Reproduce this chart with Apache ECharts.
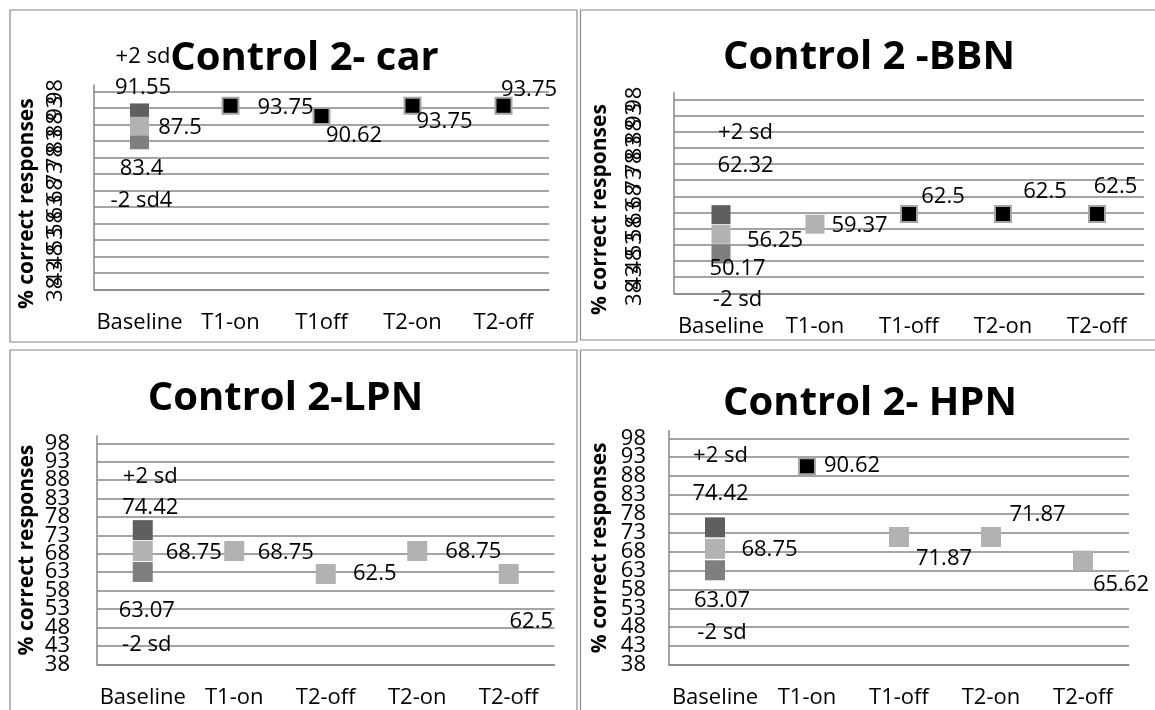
<!DOCTYPE html>
<html><head><meta charset="utf-8">
<script src="https://cdn.jsdelivr.net/npm/echarts@6/dist/echarts.min.js"></script>
<style>html,body{margin:0;padding:0;background:#fff}#chart{width:1155px;height:710px}</style>
</head><body><div id="chart"></div>
<script>
// ---------------- data ----------------
const yTickValues = [38, 43, 48, 53, 58, 63, 68, 73, 78, 83, 88, 93, 98];

const carCategories = ['Baseline', 'T1-on', 'T1off', 'T2-on', 'T2-off'];
const carPlus2sd  = [91.55, null, null, null, null];
const carMean     = [87.5, null, null, null, null];
const carMinus2sd = [83.4, null, null, null, null];
const carBlack    = [null, 93.75, 90.62, 93.75, 93.75];
const carGray     = [null, null, null, null, null];
const carSdNames  = ['+2 sd', '-2 sd4'];

const bbnCategories = ['Baseline', 'T1-on', 'T1-off', 'T2-on', 'T2-off'];
const bbnPlus2sd  = [62.32, null, null, null, null];
const bbnMean     = [56.25, null, null, null, null];
const bbnMinus2sd = [50.17, null, null, null, null];
const bbnBlack    = [null, null, 62.5, 62.5, 62.5];
const bbnGray     = [null, 59.37, null, null, null];
const bbnSdNames  = ['+2 sd', '-2 sd'];

const lpnCategories = ['Baseline', 'T1-on', 'T2-off', 'T2-on', 'T2-off'];
const lpnPlus2sd  = [74.42, null, null, null, null];
const lpnMean     = [68.75, null, null, null, null];
const lpnMinus2sd = [63.07, null, null, null, null];
const lpnBlack    = [null, null, null, null, null];
const lpnGray     = [null, 68.75, 62.5, 68.75, 62.5];
const lpnSdNames  = ['+2 sd', '-2 sd'];

const hpnCategories = ['Baseline', 'T1-on', 'T1-off', 'T2-on', 'T2-off'];
const hpnPlus2sd  = [74.42, null, null, null, null];
const hpnMean     = [68.75, null, null, null, null];
const hpnMinus2sd = [63.07, null, null, null, null];
const hpnBlack    = [null, 90.62, null, null, null];
const hpnGray     = [null, null, 71.87, 71.87, 65.62];
const hpnSdNames  = ['+2 sd', '-2 sd'];

const panelTitles = ['Control 2- car', 'Control 2 -BBN', 'Control 2-LPN', 'Control 2- HPN'];
const yAxisTitle = '% correct responses';

// ---------------- layout (positions / styles only) ----------------
const FONT = '"Open Sans", "Noto Sans", sans-serif';
const GRID_COLOR = '#868686';
const panels = [
  { categories: carCategories, plus: carPlus2sd, mean: carMean, minus: carMinus2sd, black: carBlack, gray: carGray, sdNames: carSdNames,
    layout: { titleX: 304.5, titleY: 59, box: [10, 10, 567, 332],
      grid: { left: 94, top: 85.1, width: 455, height: 204.2 }, yRotate: 90, yLabelMargin: 27, nameGap: 56, namePad: 33,
      size: 19, plusLH: 31, minusLH: 32,
      off: { plus: [[3.5, -40.5]], mean: [[40.5, 1.7]], minus: [[2, 45]],
             black: [null, [55, 2], [32.5, 19.5], [32, 16], [25.5, -16]], gray: [] } } },
  { categories: bbnCategories, plus: bbnPlus2sd, mean: bbnMean, minus: bbnMinus2sd, black: bbnBlack, gray: bbnGray, sdNames: bbnSdNames,
    layout: { titleX: 869, titleY: 58, box: [580.5, 10, 600, 330],
      grid: { left: 674, top: 92.8, width: 470, height: 200.5 }, yRotate: 90, yLabelMargin: 28, nameGap: 63, namePad: 33,
      size: 19, plusLH: 33, minusLH: 31,
      off: { plus: [[24.5, -65]], mean: [[54, 6]], minus: [[16.5, 30.5]],
             black: [null, null, [34, -17], [42, -22], [18.5, -27]], gray: [null, [44.5, 2]] } } },
  { categories: lpnCategories, plus: lpnPlus2sd, mean: lpnMean, minus: lpnMinus2sd, black: lpnBlack, gray: lpnGray, sdNames: lpnSdNames,
    layout: { titleX: 285.5, titleY: 399, box: [10, 350, 567, 400],
      grid: { left: 97, top: 435.9, width: 457.5, height: 228.4 }, yRotate: 0, yLabelMargin: 27, nameGap: 59, namePad: 0,
      size: 20, plusLH: 31, minusLH: 34,
      off: { plus: [[7.5, -37.7]], mean: [[51, 2]], minus: [[4, 56]],
             black: [], gray: [null, [51.5, 2], [49, 0], [56, 1], [22.5, 48]] } } },
  { categories: hpnCategories, plus: hpnPlus2sd, mean: hpnMean, minus: hpnMinus2sd, black: hpnBlack, gray: hpnGray, sdNames: hpnSdNames,
    layout: { titleX: 870, titleY: 404, box: [580.5, 350, 600, 400],
      grid: { left: 669, top: 430.7, width: 460, height: 234.3 }, yRotate: 0, yLabelMargin: 23, nameGap: 58, namePad: 0,
      size: 20, plusLH: 37.5, minusLH: 32,
      off: { plus: [[5.5, -52.4]], mean: [[54.5, 1]], minus: [[7, 46.5]],
             black: [null, [45, 0]], gray: [null, null, [45, 22], [46.5, -22], [38, 24.5]] } } }
];

// ---------------- option build ----------------
const grids = [], xAxes = [], yAxes = [], series = [], graphics = [];
const baseLabel = { show: true, position: 'inside', fontFamily: FONT, fontSize: 22, color: '#000', align: 'center', verticalAlign: 'middle', textBorderWidth: 0 };
// tick labels split over two overlaid axes so that the crowded labels are all drawn
const yLabelsA = yTickValues.filter((v, i) => i % 2 === 0);
const yLabelsB = yTickValues.filter((v, i) => i % 2 === 1);

function buildData(values, offsets, textFn, lh) {
  const out = [];
  values.forEach((v, i) => {
    if (v === null || v === undefined) return;
    const o = (offsets && offsets[i]) || [0, 0];
    out.push({ value: [i, v], label: Object.assign({}, baseLabel, { offset: o, formatter: textFn(v), lineHeight: lh || 30 }) });
  });
  return out;
}

panels.forEach((p, k) => {
  const L = p.layout;
  grids.push(Object.assign({ outerBoundsMode: 'none', containLabel: false }, L.grid));
  xAxes.push({
    type: 'category', gridIndex: k, data: p.categories, boundaryGap: true,
    axisLine: { show: true, lineStyle: { color: GRID_COLOR, width: 1.5 } },
    axisTick: { show: false },
    axisLabel: { interval: 0, margin: 22, fontFamily: FONT, fontSize: 22, color: '#000' },
    splitLine: { show: false }
  });
  const labelStyle = { showMinLabel: true, showMaxLabel: true, hideOverlap: false,
    rotate: L.yRotate, margin: L.yLabelMargin, fontFamily: FONT, fontSize: 22, color: '#000' };
  yAxes.push({
    type: 'value', gridIndex: k, min: 38, max: 100, position: 'left',
    name: yAxisTitle, nameLocation: 'middle', nameGap: L.nameGap, nameRotate: 90,
    nameTextStyle: { fontFamily: FONT, fontWeight: 'bold', fontSize: 21, color: '#000', padding: [0, L.namePad, 0, 0] },
    axisLine: { show: true, lineStyle: { color: GRID_COLOR, width: 1.5 } },
    axisTick: { show: false, customValues: yTickValues },
    axisLabel: Object.assign({ customValues: yLabelsA }, labelStyle),
    splitLine: { show: true, lineStyle: { color: GRID_COLOR, width: 1.5 } }
  });
  yAxes.push({
    type: 'value', gridIndex: k, min: 38, max: 100, position: 'left', offset: 0,
    axisLine: { show: false }, axisTick: { show: false, customValues: yLabelsB },
    axisLabel: Object.assign({ customValues: yLabelsB }, labelStyle),
    splitLine: { show: false }
  });
  const common = { type: 'scatter', xAxisIndex: k, yAxisIndex: 2 * k, symbol: 'rect', animation: false, emphasis: { disabled: true }, silent: true };
  series.push(Object.assign({}, common, {
    name: p.sdNames[0], symbolSize: L.size, itemStyle: { color: '#5f5f5f', opacity: 1 },
    data: buildData(p.plus, L.off.plus, v => p.sdNames[0] + '\n' + v, L.plusLH)
  }));
  series.push(Object.assign({}, common, {
    name: p.sdNames[1], symbolSize: L.size, itemStyle: { color: '#7f7f7f', opacity: 1 },
    data: buildData(p.minus, L.off.minus, v => v + '\n' + p.sdNames[1], L.minusLH)
  }));
  series.push(Object.assign({}, common, {
    name: 'Baseline mean', symbolSize: L.size, itemStyle: { color: '#b2b2b2', opacity: 1 },
    data: buildData(p.mean, L.off.mean, v => String(v))
  }));
  series.push(Object.assign({}, common, {
    name: 'Above range', symbolSize: 16, itemStyle: { color: '#000', borderColor: '#a6a6a6', borderWidth: 2, opacity: 1 },
    data: buildData(p.black, L.off.black, v => String(v))
  }));
  series.push(Object.assign({}, common, {
    name: 'Within range', symbolSize: L.size, itemStyle: { color: '#b2b2b2', opacity: 1 },
    data: buildData(p.gray, L.off.gray, v => String(v))
  }));
  const b = L.box;
  graphics.push({ type: 'rect', silent: true, z: -10, shape: { x: b[0], y: b[1], width: b[2], height: b[3] },
    style: { fill: 'none', stroke: '#8a8a8a', lineWidth: 1.2 } });
  graphics.push({ type: 'text', silent: true, x: L.titleX, y: L.titleY,
    style: { text: panelTitles[k], font: 'bold 40px ' + FONT, fill: '#000', align: 'center', verticalAlign: 'middle', textAlign: 'center', textVerticalAlign: 'middle' } });
});

const chart = echarts.init(document.getElementById('chart'), null, { renderer: 'canvas' });
chart.setOption({
  backgroundColor: '#fff',
  animation: false,
  grid: grids, xAxis: xAxes, yAxis: yAxes, series: series, graphic: graphics
});
</script></body></html>
